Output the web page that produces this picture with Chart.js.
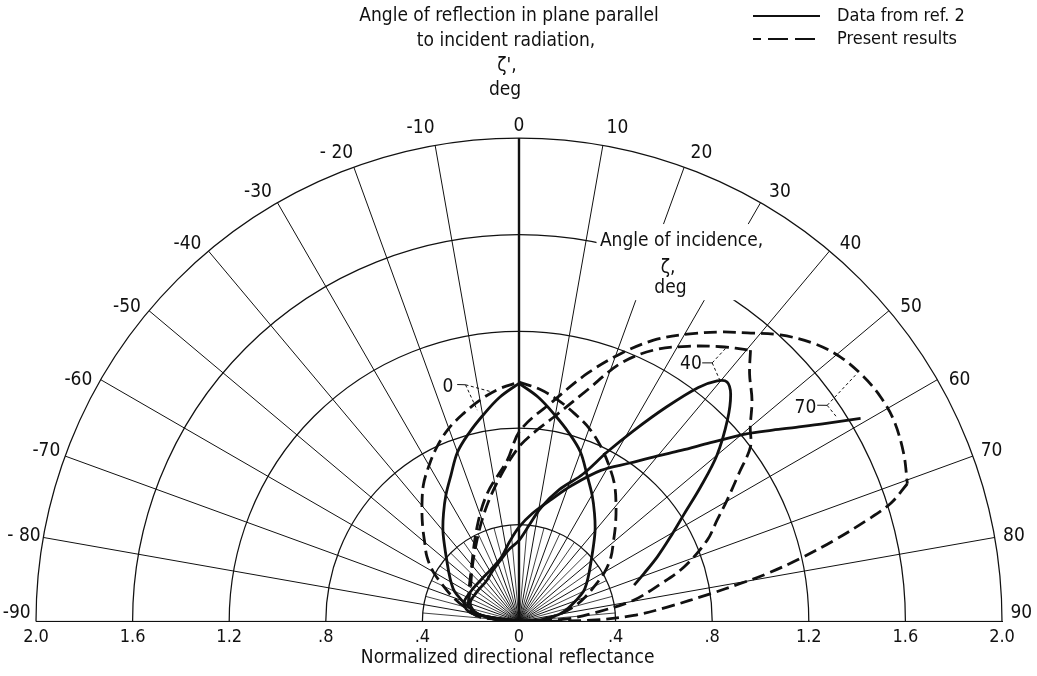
<!DOCTYPE html>
<html>
<head>
<meta charset="utf-8">
<script src="https://cdn.jsdelivr.net/npm/chart.js@4.4.1/dist/chart.umd.min.js"></script>
<style>
  html, body { margin: 0; padding: 0; background: #fff; }
  #wrap { width: 1037px; height: 676px; }
</style>
</head>
<body>
<div id="wrap"><canvas id="chart" width="1037" height="676"></canvas></div>
<script>
// Reflectance axis ticks (radial distance, shown on both sides of the origin)
const reflectanceTicks = [-2.0, -1.6, -1.2, -0.8, -0.4, 0, 0.4, 0.8, 1.2, 1.6, 2.0];
const ringValues = [0.4, 0.8, 1.2, 1.6, 2.0];
// Angle of reflection zeta' (deg), measured from the normal
const spokeAngles = [-90, -80, -70, -60, -50, -40, -30, -20, -10, 0, 10, 20, 30, 40, 50, 60, 70, 80, 90];
const fineSpokeAngles = [-85, -75, -65, -55, -45, -35, -25, -15, -5, 5, 15, 25, 35, 45, 55, 65, 75, 85];
const spokeLabels = ['-90', '- 80', '-70', '-60', '-50', '-40', '-30', '- 20', '-10', '0', '10', '20', '30', '40', '50', '60', '70', '80', '90'];

// Incidence angle zeta = 0 deg
const inc0Angles = [-90, -85, -80, -75, -70, -65, -60, -55, -50, -45, -40, -35, -30, -25, -20, -15, -10, -5, 0,
                    5, 10, 15, 20, 25, 30, 35, 40, 45, 50, 55, 60, 65, 70, 75, 80, 85, 90];
const inc0Ref2 = [0, 0.10, 0.17, 0.21, 0.25, 0.295, 0.325, 0.355, 0.39, 0.435, 0.49, 0.545, 0.605, 0.667, 0.745, 0.805, 0.865, 0.93, 0.985,
                  0.93, 0.865, 0.805, 0.745, 0.667, 0.605, 0.545, 0.49, 0.435, 0.39, 0.355, 0.325, 0.295, 0.25, 0.21, 0.17, 0.10, 0];
const inc0Present = [0, 0.095, 0.17, 0.235, 0.29, 0.345, 0.41, 0.465, 0.51, 0.565, 0.625, 0.69, 0.745, 0.80, 0.85, 0.89, 0.93, 0.965, 0.99,
                     0.965, 0.93, 0.89, 0.85, 0.80, 0.745, 0.69, 0.625, 0.565, 0.51, 0.465, 0.41, 0.345, 0.29, 0.235, 0.17, 0.095, 0];

// Incidence angle zeta = 40 deg
const inc40Ref2Angles = [-90, -80, -70, -55, -40, -28, -17, -8, 0, 6, 11, 17, 23.5, 27.5, 31, 34.5, 37.5, 39.5, 41, 43, 46, 50, 53.5, 57, 61, 65, 69, 72.5];
const inc40Ref2 = [0, 0.17, 0.215, 0.213, 0.214, 0.235, 0.264, 0.3, 0.335, 0.4, 0.48, 0.57, 0.665, 0.79, 0.92, 1.075, 1.22, 1.29, 1.313, 1.285, 1.2, 1.07, 0.935, 0.815, 0.715, 0.632, 0.555, 0.5];
const inc40PresentAngles = [-90, -80, -53, -32, -17, -7, 0, 5, 9.7, 16.4, 21.5, 26.4, 31.5, 36.3, 40.5, 43, 46.5, 50, 53, 56, 59.8, 63, 66.7, 71.8, 75.4, 79.6, 83.2, 87, 90];
const inc40Present = [0, 0.2, 0.25, 0.345, 0.48, 0.61, 0.722, 0.79, 0.858, 0.997, 1.147, 1.253, 1.335, 1.41, 1.476, 1.40, 1.33, 1.25, 1.20, 1.10, 0.997, 0.92, 0.848, 0.718, 0.6, 0.48, 0.326, 0.2, 0];

// Incidence angle zeta = 70 deg
const inc70Ref2Angles = [-90, -80, -72, -58, -43, -28, -15, -7, 0, 7, 14.5, 21, 28.5, 35, 40, 43.5, 47, 50.5, 53, 55, 57, 59.3];
const inc70Ref2 = [0, 0.2, 0.24, 0.235, 0.233, 0.245, 0.277, 0.33, 0.39, 0.45, 0.518, 0.6, 0.711, 0.80, 0.894, 0.975, 1.084, 1.22, 1.315, 1.40, 1.50, 1.645];
const inc70PresentAngles = [-90, -80, -64, -45, -24, -14, -4.2, 0.4, 9, 15.4, 20.8, 25.6, 30.4, 34.9, 38.4, 42.4, 46.7, 50.6, 54.7, 58.2, 61.8, 66.4, 70.5,
                            72.4, 73.8, 75.6, 77.4, 79.1, 80.3, 81.8, 84.5, 87, 89, 90];
const inc70Present = [0, 0.2, 0.231, 0.282, 0.427, 0.545, 0.668, 0.791, 0.926, 1.064, 1.185, 1.29, 1.378, 1.46, 1.523, 1.605, 1.677, 1.723, 1.75, 1.762, 1.761, 1.738, 1.706,
                      1.614, 1.50, 1.346, 1.194, 1.047, 0.93, 0.80, 0.617, 0.476, 0.30, 0];

const FONT = "'DejaVu Sans Condensed', 'Liberation Sans Narrow', 'Liberation Sans', sans-serif";
const INK = '#111';
const DEG = Math.PI / 180;

// Polar (angle from the normal, reflectance) -> plane coordinates in reflectance units
function toXY(angles, values) {
  return angles.map((a, i) => ({ x: values[i] * Math.sin(a * DEG), y: values[i] * Math.cos(a * DEG) }));
}
// Break a curve at its sharp corners so the smoothing does not round them off
function pieces(angles, values, corners) {
  const pts = toXY(angles, values);
  const out = [];
  let start = 0;
  angles.forEach((a, i) => {
    if (corners.includes(a)) { out.push(pts.slice(start, i + 1)); start = i; }
  });
  out.push(pts.slice(start));
  return out;
}

const curves = [
  { angles: inc0Angles, values: inc0Ref2, dashed: false, corners: [0] },
  { angles: inc0Angles, values: inc0Present, dashed: true, corners: [0] },
  { angles: inc40Ref2Angles, values: inc40Ref2, dashed: false, corners: [] },
  { angles: inc40PresentAngles, values: inc40Present, dashed: true, corners: [40.5] },
  { angles: inc70Ref2Angles, values: inc70Ref2, dashed: false, corners: [] },
  { angles: inc70PresentAngles, values: inc70Present, dashed: true, corners: [70.5] }
];

const datasets = [];
curves.forEach(c => {
  pieces(c.angles, c.values, c.corners).forEach(p => {
    datasets.push({
      data: p,
      showLine: true,
      borderColor: INK,
      borderWidth: 2.8,
      borderDash: c.dashed ? [13, 6] : [],
      pointRadius: 0,
      tension: 0.35,
      fill: false
    });
  });
});

function fmtReflectance(v) {
  const a = Math.abs(v);
  if (a < 1e-9) return '0';
  if (a < 1) return '.' + Math.round(a * 10);
  return a.toFixed(1);
}

// Notes placed in reflectance units (x to the right of the origin, y up)
const incidenceNotes = [
  { text: '0', at: [-0.294, 0.971], knee: [[-0.256, 0.980], [-0.2215, 0.979]], ends: [[-0.111, 0.949], [-0.173, 0.874]] },
  { text: '40', at: [0.712, 1.066], knee: [[0.7586, 1.0696], [0.800, 1.0696]], ends: [[0.855, 1.129], [0.8315, 0.998]] },
  { text: '70', at: [1.186, 0.884], knee: [[1.2348, 0.8944], [1.276, 0.894]], ends: [[1.393, 1.0186], [1.3176, 0.8427]] }
];
const incidenceTitle = { box: [0.321, 1.329, 1.033, 1.644], lines: [['Angle of incidence,', 0.673, 1.574], ['\u03B6,', 0.617, 1.462], ['deg', 0.627, 1.379]] };
const axisTitle = { text: 'Normalized directional reflectance', at: [-0.047, -0.153] };

// angular nudge of each spoke label away from its spoke
function labelAngle(a) {
  const m = Math.abs(a), s = Math.sign(a);
  if (m === 90) return s * 89.1;
  if (m >= 70) return s * (m + 0.2);
  return s * (m + 1.3);
}

const polarFrame = {
  id: 'polarFrame',
  beforeDatasetsDraw(chart) {
    const { ctx, scales: { x, y } } = chart;
    const cx = x.getPixelForValue(0), cy = y.getPixelForValue(0);
    const kx = x.getPixelForValue(1) - cx, ky = cy - y.getPixelForValue(1);
    const P = (deg, r) => [cx + kx * r * Math.sin(deg * DEG), cy - ky * r * Math.cos(deg * DEG)];
    const U = (u, v) => [x.getPixelForValue(u), y.getPixelForValue(v)];
    const rMax = ringValues[ringValues.length - 1];
    ctx.save();
    ctx.strokeStyle = INK;
    ctx.lineCap = 'butt';
    // reflectance rings
    ctx.lineWidth = 1.25;
    ringValues.forEach(r => {
      ctx.beginPath();
      ctx.ellipse(cx, cy, kx * r, ky * r, 0, Math.PI, 2 * Math.PI);
      ctx.stroke();
    });
    // angle spokes
    spokeAngles.forEach(a => {
      const [x1, y1] = P(a, rMax);
      ctx.lineWidth = a === 0 ? 2.4 : 1;
      ctx.beginPath(); ctx.moveTo(cx, cy); ctx.lineTo(x1, y1); ctx.stroke();
    });
    ctx.lineWidth = 0.8;
    fineSpokeAngles.forEach(a => {
      const [x1, y1] = P(a, ringValues[0]);
      ctx.beginPath(); ctx.moveTo(cx, cy); ctx.lineTo(x1, y1); ctx.stroke();
    });
    // clear panel for the incidence-angle caption
    const b = incidenceTitle.box;
    const [bx0, by0] = U(b[0], b[3]);
    const [bx1, by1] = U(b[2], b[1]);
    ctx.fillStyle = '#fff';
    ctx.fillRect(bx0, by0, bx1 - bx0, by1 - by0);
    ctx.restore();
  },
  afterDraw(chart) {
    const { ctx, scales: { x, y } } = chart;
    const cx = x.getPixelForValue(0), cy = y.getPixelForValue(0);
    const kx = x.getPixelForValue(1) - cx, ky = cy - y.getPixelForValue(1);
    const P = (deg, r) => [cx + kx * r * Math.sin(deg * DEG), cy - ky * r * Math.cos(deg * DEG)];
    const U = (u, v) => [x.getPixelForValue(u), y.getPixelForValue(v)];
    ctx.save();
    ctx.fillStyle = INK;
    ctx.strokeStyle = INK;
    ctx.textAlign = 'center';
    ctx.textBaseline = 'middle';
    // spoke labels around the outer ring
    ctx.font = '19px ' + FONT;
    spokeAngles.forEach((a, i) => {
      const [lx, ly] = P(labelAngle(a), a === 0 ? 2.05 : 2.08);
      ctx.fillText(spokeLabels[i], lx, ly);
    });
    // incidence caption
    incidenceTitle.lines.forEach(([t, u, v]) => {
      const [px, py] = U(u, v);
      ctx.fillText(t, px, py);
    });
    // incidence-angle callouts with thin dashed leaders
    incidenceNotes.forEach(n => {
      const [tx, ty] = U(n.at[0], n.at[1]);
      ctx.fillText(n.text, tx, ty);
      const [k0x, k0y] = U(n.knee[0][0], n.knee[0][1]);
      const [k1x, k1y] = U(n.knee[1][0], n.knee[1][1]);
      ctx.lineWidth = 1;
      ctx.setLineDash([]);
      ctx.beginPath(); ctx.moveTo(k0x, k0y); ctx.lineTo(k1x, k1y); ctx.stroke();
      ctx.setLineDash([3, 2.5]);
      n.ends.forEach(e => {
        const [ex, ey] = U(e[0], e[1]);
        ctx.beginPath(); ctx.moveTo(k1x, k1y); ctx.lineTo(ex, ey); ctx.stroke();
      });
    });
    ctx.setLineDash([]);
    // axis caption under the tick labels
    const [ax, ay] = U(axisTitle.at[0], axisTitle.at[1]);
    ctx.fillText(axisTitle.text, ax, ay);
    // heading
    ctx.fillText('Angle of reflection in plane parallel', 509, 16);
    ctx.fillText('to incident radiation,', 506, 41);
    ctx.fillText('\u03B6\',', 507, 66);
    ctx.fillText('deg', 505, 90);
    // legend
    ctx.textAlign = 'left';
    ctx.font = '18px ' + FONT;
    ctx.lineWidth = 2;
    ctx.beginPath(); ctx.moveTo(753, 16); ctx.lineTo(820, 16); ctx.stroke();
    ctx.setLineDash([20, 7]);
    ctx.lineDashOffset = 12;
    ctx.beginPath(); ctx.moveTo(753, 39); ctx.lineTo(820, 39); ctx.stroke();
    ctx.setLineDash([]);
    ctx.fillText('Data from ref. 2', 837, 16);
    ctx.fillText('Present results', 837, 39);
    ctx.restore();
  }
};

new Chart(document.getElementById('chart'), {
  type: 'scatter',
  data: { datasets },
  options: {
    responsive: false,
    animation: false,
    devicePixelRatio: 1,
    layout: { padding: { left: 36, right: 35, top: 138, bottom: 23 } },
    plugins: { legend: { display: false }, tooltip: { enabled: false } },
    scales: {
      x: {
        type: 'linear', min: -2, max: 2,
        afterBuildTicks: s => { s.ticks = reflectanceTicks.map(v => ({ value: v })); },
        grid: { display: false, drawTicks: false },
        border: { display: true, color: INK, width: 1 },
        ticks: { callback: v => fmtReflectance(v), color: INK, padding: 5, autoSkip: false, maxRotation: 0,
                 font: { family: FONT, size: 18 } }
      },
      y: { type: 'linear', min: 0, max: 2, display: false }
    }
  },
  plugins: [polarFrame]
});
</script>
</body>
</html>
